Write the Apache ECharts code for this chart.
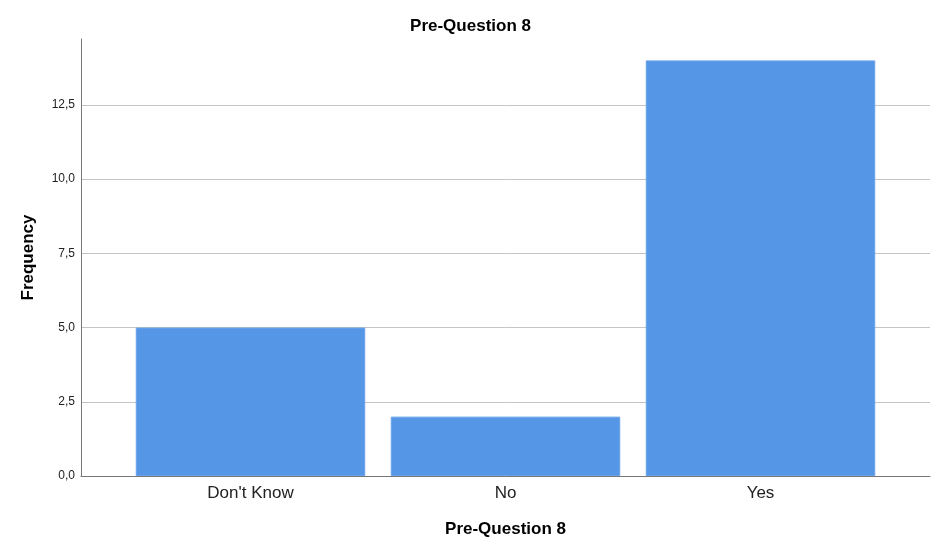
<!DOCTYPE html>
<html>
<head>
<meta charset="utf-8">
<script src="https://cdn.jsdelivr.net/npm/echarts@6/dist/echarts.min.js"></script>
<style>
  html, body { margin: 0; padding: 0; background: #fff; }
  #chart { width: 941px; height: 554px; }
</style>
</head>
<body>
<div id="chart"></div>
<script>
var categories = ["Don't Know", 'No', 'Yes'];
var frequencies = [5, 2, 14];
var yMax = 14.72;
var yInterval = 2.5;

// SPSS style tick labels use a decimal comma
function commaLabel(v) {
    if (Math.abs(v / yInterval - Math.round(v / yInterval)) > 1e-6) return '';
    return v.toFixed(1).replace('.', ',');
}

var chart = echarts.init(document.getElementById('chart'));
var font = 'Arial, "Liberation Sans", sans-serif';

chart.setOption({
    backgroundColor: '#fff',
    animation: false,
    title: {
        text: 'Pre-Question 8',
        left: 'center',
        top: 13,
        textStyle: { fontFamily: font, fontSize: 17, fontWeight: 'bold', color: '#000' }
    },
    grid: [
        // full frame: axis lines and gridlines
        { left: 81, right: 11, top: 39, bottom: 78 },
        // inner band where the bars sit (SPSS pads the category axis)
        { left: 123, right: 53, top: 39, bottom: 78 }
    ],
    xAxis: [
        {
            gridIndex: 0,
            type: 'value',
            min: 0,
            max: 1,
            axisLine: { show: true, lineStyle: { color: '#777', width: 1 } },
            axisTick: { show: false },
            axisLabel: { show: false },
            splitLine: { show: false },
            name: 'Pre-Question 8',
            nameLocation: 'middle',
            nameGap: 45,
            nameTextStyle: { fontFamily: font, fontSize: 17, fontWeight: 'bold', color: '#000' }
        },
        {
            gridIndex: 1,
            type: 'category',
            data: categories,
            axisLine: { show: false },
            axisTick: { show: false },
            axisLabel: { fontFamily: font, fontSize: 17, color: '#222', margin: 9 }
        }
    ],
    yAxis: [
        {
            gridIndex: 0,
            type: 'value',
            min: 0,
            max: yMax,
            interval: yInterval,
            name: 'Frequency',
            nameLocation: 'middle',
            nameGap: 44,
            nameTextStyle: { fontFamily: font, fontSize: 17, fontWeight: 'bold', color: '#000' },
            axisLine: { show: true, lineStyle: { color: '#777', width: 1 } },
            axisTick: { show: false },
            axisLabel: { fontFamily: font, fontSize: 12, color: '#222', margin: 6, formatter: commaLabel, showMaxLabel: false },
            splitLine: { show: true, showMaxLine: false, lineStyle: { color: '#c4c4c4', width: 1 } }
        },
        {
            gridIndex: 1,
            type: 'value',
            min: 0,
            max: yMax,
            show: false,
            splitLine: { show: false }
        }
    ],
    series: [{
        type: 'bar',
        xAxisIndex: 1,
        yAxisIndex: 1,
        data: frequencies,
        barCategoryGap: '10%',
        itemStyle: { color: '#5596e6', borderColor: '#6aa3ea', borderWidth: 1 }
    }]
});
</script>
</body>
</html>
